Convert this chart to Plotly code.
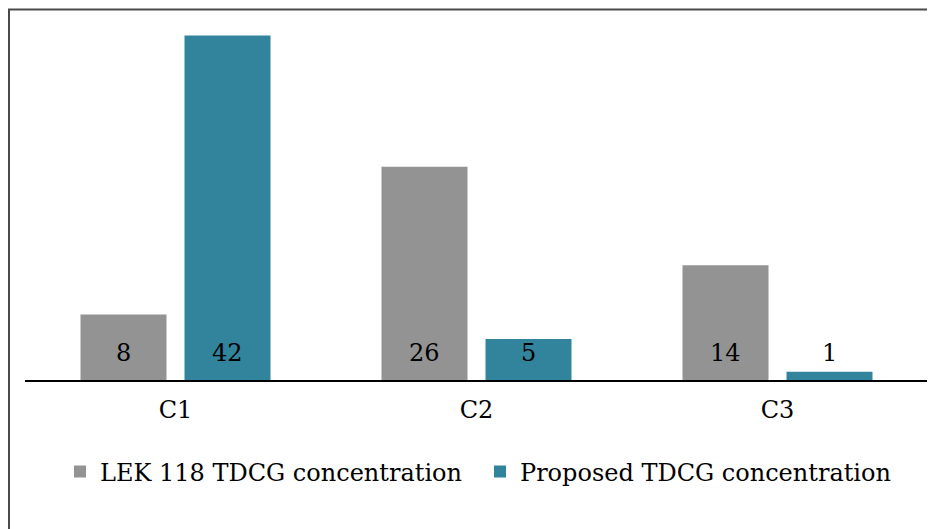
import plotly.graph_objects as go

categories = ["C1", "C2", "C3"]
lek_values = [8, 26, 14]
proposed_values = [42, 5, 1]
series_names = ["LEK 118 TDCG concentration", "Proposed TDCG concentration"]

GRAY = "#939393"
TEAL = "#31849B"
FONT = dict(family="DejaVu Serif", size=24, color="#000000")

W, H = 935, 529
OFF = 8  # page offset of the figure
ML, MR, MT, MB = 25 - OFF, 7 + OFF, 11 - OFF, 149 + OFF
PW = W - ML - MR
PH = H - MT - MB

fig = go.Figure()
fig.add_trace(go.Bar(x=categories, y=lek_values, name=series_names[0],
                     marker=dict(color=GRAY, line=dict(width=0))))
fig.add_trace(go.Bar(x=categories, y=proposed_values, name=series_names[1],
                     marker=dict(color=TEAL, line=dict(width=0))))

# value labels near the base of each bar
for vals, shift in ((lek_values, -52), (proposed_values, 52)):
    for c, v in zip(categories, vals):
        fig.add_annotation(x=c, y=0, text=str(v), showarrow=False,
                           xshift=shift, yshift=27, yanchor="middle",
                           font=FONT)

def px2paper_x(px):
    return (px - OFF - ML) / PW

def px2paper_y(py):
    return (H - MB - (py - OFF)) / PH

# outer frame (left, top, right)
x0, x1 = px2paper_x(9), px2paper_x(932)
y0, y1, y2 = px2paper_y(560), px2paper_y(9.5), px2paper_y(482)
fig.add_shape(type="path", xref="paper", yref="paper",
              path=f"M {x0},{y0} L {x0},{y1} L {x1},{y1} L {x1},{y2}",
              line=dict(color="#4a4a4a", width=2))

fig.update_layout(
    width=W, height=H,
    margin=dict(l=ML, r=MR, t=MT, b=MB),
    paper_bgcolor="white", plot_bgcolor="white",
    barmode="group", bargap=0.309, bargroupgap=0.173,
    font=FONT,
    showlegend=True,
    legend=dict(orientation="h", x=px2paper_x(60), xanchor="left",
                y=px2paper_y(472), yanchor="middle",
                font=FONT, entrywidth=375, entrywidthmode="pixels",
                bgcolor="rgba(0,0,0,0)"),
)
fig.update_xaxes(showline=True, linecolor="#000000", linewidth=1.5,
                 showgrid=False, ticks="", tickfont=FONT, zeroline=False,
                 ticklabelstandoff=7)
fig.update_yaxes(range=[0, 45], visible=False, showgrid=False, zeroline=False)

fig.write_html("out.html")
